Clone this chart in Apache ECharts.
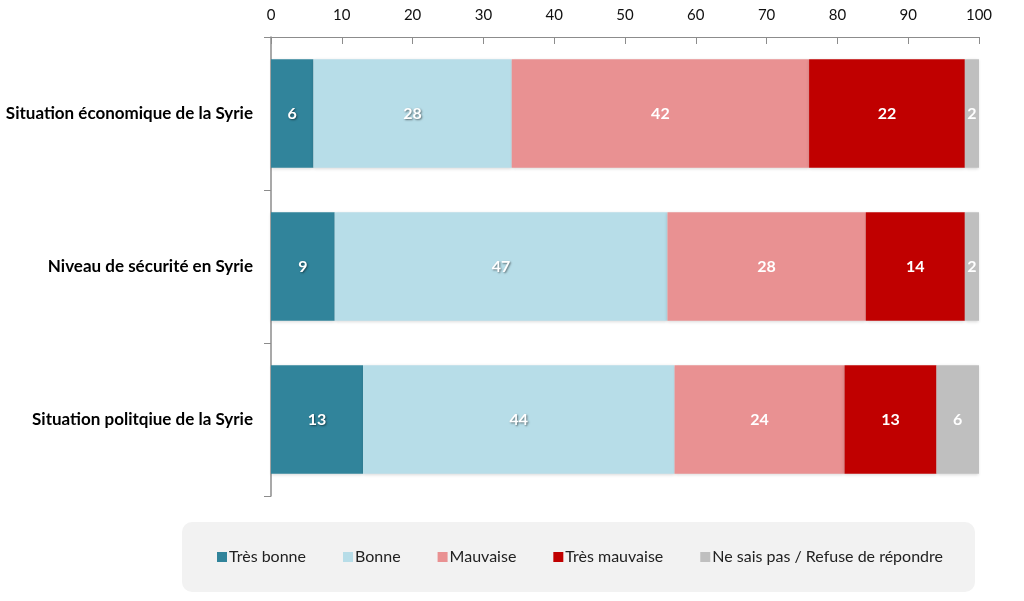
<!DOCTYPE html>
<html><head><meta charset="utf-8">
<script src="https://cdn.jsdelivr.net/npm/echarts@6/dist/echarts.min.js"></script>
<style>html,body{margin:0;padding:0;background:#fff}#c{width:1024px;height:601px}</style>
</head><body><div id="c"></div>
<script>
const categories = ["Situation économique de la Syrie", "Niveau de sécurité en Syrie", "Situation politqiue de la Syrie"];
const seriesNames = ["Très bonne", "Bonne", "Mauvaise", "Très mauvaise", "Ne sais pas / Refuse de répondre"];
const tresBonne = [6, 9, 13];
const bonne = [28, 47, 44];
const mauvaise = [42, 28, 24];
const tresMauvaise = [22, 14, 13];
const nsp = [2, 2, 6];
const xTicks = [0, 10, 20, 30, 40, 50, 60, 70, 80, 90, 100];

const colors = ["#31849b", "#b7dde8", "#e99192", "#c00000", "#bfbfbf"];
const values = [tresBonne, bonne, mauvaise, tresMauvaise, nsp];
const chart = echarts.init(document.getElementById('c'));
const font = "Lato, 'Open Sans', sans-serif";
chart.setOption({
  animation: false,
  textStyle: {fontFamily: font},
  grid: {left: 271, right: 45, top: 37, bottom: 105},
  graphic: [{
    type: 'rect', left: 182, top: 522, z: -1,
    shape: {width: 793, height: 70, r: 10},
    style: {fill: '#f2f2f2'}
  }],
  legend: {
    bottom: 31, left: 212,
    itemWidth: 10, itemHeight: 10, itemGap: 37,
    icon: 'rect',
    textStyle: {fontSize: 16, color: '#222', fontFamily: font, padding: [0, 0, 0, -3]},
    data: seriesNames
  },
  xAxis: {
    type: 'value', position: 'top', min: 0, max: 100, interval: 10,
    axisLine: {show: true, lineStyle: {color: '#8c8c8c'}},
    axisTick: {show: true, inside: true, length: 7, lineStyle: {color: '#8c8c8c'}},
    axisLabel: {fontSize: 15, color: '#111', margin: 14,
      formatter: v => xTicks.includes(v) ? String(v) : ''},
    splitLine: {show: false}
  },
  yAxis: {
    type: 'category', inverse: true, data: categories,
    axisLine: {show: true, lineStyle: {color: '#8c8c8c', width: 1.5}},
    axisTick: {show: true, length: 7, lineStyle: {color: '#8c8c8c'}},
    axisLabel: {fontSize: 17, fontWeight: 'bold', color: '#000', margin: 18}
  },
  series: values.map((d, i) => ({
    name: seriesNames[i], type: 'bar', stack: 'all', data: d,
    barWidth: '71%',
    itemStyle: {color: colors[i], shadowColor: 'rgba(0,0,0,0.15)', shadowBlur: 3, shadowOffsetY: 1},
    label: {show: true, position: 'inside', color: '#fff', fontWeight: 'bold', fontSize: 16,
      textShadowColor: i < 2 ? 'rgba(0,0,0,0.5)' : 'transparent', textShadowBlur: i < 2 ? 2 : 0,
      textShadowOffsetX: 1, textShadowOffsetY: 1}
  }))
});
</script></body></html>
